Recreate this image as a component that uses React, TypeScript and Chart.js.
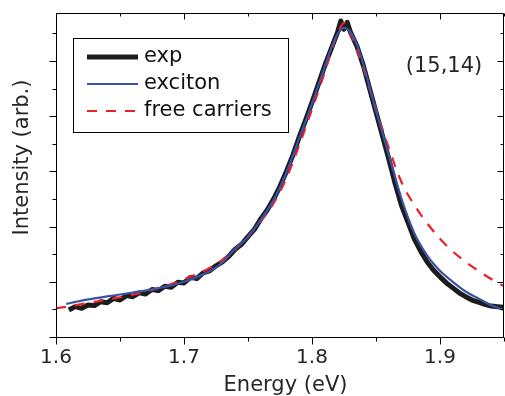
import React, { useEffect, useRef } from 'react';
import { Chart, registerables } from 'chart.js';

Chart.register(...registerables);

// ---- data (energy in eV, intensity in arbitrary units) ----
const expEnergy = [
  1.610, 1.615, 1.620, 1.625, 1.630, 1.635, 1.640, 1.645, 1.650, 1.655,
  1.660, 1.665, 1.670, 1.675, 1.680, 1.685, 1.690, 1.695, 1.700, 1.705,
  1.710, 1.715, 1.720, 1.725, 1.730, 1.735, 1.740, 1.745, 1.750, 1.755,
  1.760, 1.765, 1.770, 1.775, 1.780, 1.785, 1.790, 1.795, 1.800, 1.805,
  1.810, 1.815, 1.820, 1.8225, 1.825, 1.8275, 1.830, 1.835, 1.840, 1.845,
  1.850, 1.855, 1.860, 1.865, 1.870, 1.875, 1.880, 1.885, 1.890, 1.895,
  1.900, 1.905, 1.910, 1.915, 1.920, 1.925, 1.930, 1.935, 1.940, 1.945, 1.950,
];
const expIntensity = [
  0.98, 1.10, 1.04, 1.16, 1.14, 1.28, 1.24, 1.40, 1.34, 1.50,
  1.46, 1.60, 1.56, 1.72, 1.68, 1.84, 1.80, 1.98, 1.96, 2.16,
  2.12, 2.32, 2.40, 2.58, 2.72, 2.92, 3.18, 3.36, 3.64, 3.90,
  4.28, 4.60, 5.00, 5.46, 6.00, 6.58, 7.24, 7.86, 8.50, 9.16,
  9.84, 10.44, 11.05, 11.45, 11.15, 11.40, 11.05, 10.55, 9.85, 9.00,
  8.15, 7.30, 6.45, 5.55, 4.75, 4.15, 3.55, 3.10, 2.72, 2.42,
  2.18, 1.96, 1.78, 1.60, 1.46, 1.34, 1.26, 1.18, 1.12, 1.10, 1.08,
];

const excitonEnergy = [
  1.608, 1.62, 1.63, 1.64, 1.65, 1.66, 1.67, 1.68, 1.69, 1.70,
  1.71, 1.72, 1.73, 1.74, 1.75, 1.76, 1.77, 1.78, 1.79, 1.80,
  1.81, 1.815, 1.82, 1.825, 1.83, 1.835, 1.84, 1.845, 1.85, 1.86,
  1.87, 1.88, 1.89, 1.90, 1.91, 1.92, 1.93, 1.94, 1.95,
];
const excitonIntensity = [
  1.20, 1.32, 1.40, 1.47, 1.54, 1.61, 1.68, 1.77, 1.87, 2.00,
  2.17, 2.38, 2.70, 3.20, 3.62, 4.25, 4.96, 5.95, 7.20, 8.45,
  9.80, 10.45, 10.98, 11.20, 11.05, 10.60, 9.90, 9.05, 8.20, 6.60,
  5.00, 3.75, 2.95, 2.40, 2.00, 1.65, 1.40, 1.15, 0.98,
];

const freeEnergy = [
  1.60, 1.61, 1.62, 1.63, 1.64, 1.65, 1.66, 1.67, 1.68, 1.69,
  1.70, 1.71, 1.72, 1.73, 1.74, 1.75, 1.76, 1.77, 1.78, 1.79,
  1.80, 1.81, 1.815, 1.82, 1.825, 1.83, 1.835, 1.84, 1.845, 1.85,
  1.86, 1.87, 1.88, 1.89, 1.90, 1.91, 1.92, 1.93, 1.94, 1.95,
];
const freeIntensity = [
  1.04, 1.11, 1.19, 1.27, 1.35, 1.44, 1.53, 1.64, 1.77, 1.92,
  2.09, 2.28, 2.50, 2.79, 3.18, 3.64, 4.20, 4.85, 5.75, 6.95,
  8.25, 9.60, 10.35, 11.00, 11.38, 11.00, 10.40, 9.75, 9.00, 8.25,
  6.85, 5.60, 4.78, 4.12, 3.56, 3.10, 2.72, 2.40, 2.10, 1.84,
];

const xLabelTicks = [1.6, 1.7, 1.8, 1.9];
const xMinorStep = 0.05;
const yTickValues = [0, 1, 2, 3, 4, 5, 6, 7, 8, 9, 10, 11];
const seriesLabels = ['exp', 'exciton', 'free carriers'];
const annotationText = '(15,14)';
const xTitle = 'Energy (eV)';
const yTitle = 'Intensity (arb.)';

const FONT = '"DejaVu Sans", Verdana, sans-serif';

function toPoints(xs: number[], ys: number[]) {
  return xs.map((x, i) => ({ x, y: ys[i] }));
}

const framePlugin = {
  id: 'framePlugin',
  afterDraw(chart: any) {
    const { ctx, chartArea } = chart;
    const { left, right, top, bottom } = chartArea;
    const xs = chart.scales.x;
    const ys = chart.scales.y;
    ctx.save();
    ctx.strokeStyle = '#000';
    ctx.lineWidth = 1;
    const L = Math.round(left) + 0.5;
    const R = Math.round(right) - 0.5;
    const T = Math.round(top) + 0.5;
    const B = Math.round(bottom) + 0.5;
    ctx.beginPath();
    ctx.moveTo(L, T); ctx.lineTo(R, T); ctx.lineTo(R, B); ctx.lineTo(L, B); ctx.closePath();
    ctx.stroke();

    // x ticks
    ctx.beginPath();
    for (let k = 0; ; k++) {
      const v = xs.min + k * xMinorStep;
      if (v > xs.max + 1e-9) break;
      const major = xLabelTicks.some((t) => Math.abs(t - v) < 1e-6);
      const len = major ? 7 : 4;
      const px = Math.round(xs.getPixelForValue(v)) + 0.5;
      ctx.moveTo(px, B); ctx.lineTo(px, B + len);
      ctx.moveTo(px, T); ctx.lineTo(px, T + len - 1);
    }
    // y ticks
    yTickValues.forEach((v) => {
      const major = v % 2 === 0;
      const len = major ? 7 : 4;
      const py = Math.round(ys.getPixelForValue(v)) + 0.5;
      ctx.moveTo(L - len, py); ctx.lineTo(L, py);
      ctx.moveTo(R - len + 1, py); ctx.lineTo(R, py);
    });
    ctx.stroke();

    // axis titles
    ctx.fillStyle = '#262626';
    ctx.font = `21px ${FONT}`;
    ctx.textAlign = 'center';
    ctx.textBaseline = 'alphabetic';
    ctx.fillText(xTitle, 285.5, 390.5);
    ctx.save();
    ctx.translate(27.5, 157.5);
    ctx.rotate(-Math.PI / 2);
    ctx.fillText(yTitle, 0, 0);
    ctx.restore();

    // annotation
    ctx.textAlign = 'center';
    ctx.textBaseline = 'middle';
    ctx.fillText(annotationText, 444, 67);

    // legend
    const bx = 73.5, by = 38.5, bw = 215, bh = 94;
    ctx.fillStyle = '#fff';
    ctx.fillRect(bx, by, bw, bh);
    ctx.strokeStyle = '#000';
    ctx.lineWidth = 1;
    ctx.strokeRect(bx, by, bw, bh);
    const order = [2, 0, 1];
    const rowsY = [57, 84, 111];
    order.forEach((di, row) => {
      const ds = chart.data.datasets[di];
      const y = rowsY[row];
      ctx.save();
      ctx.strokeStyle = ds.borderColor;
      ctx.lineWidth = ds.borderWidth;
      ctx.setLineDash(ds.borderDash || []);
      ctx.lineCap = 'butt';
      ctx.beginPath();
      ctx.moveTo(87, y);
      ctx.lineTo(138, y);
      ctx.stroke();
      ctx.restore();
      ctx.fillStyle = '#111';
      ctx.textAlign = 'left';
      ctx.textBaseline = 'middle';
      ctx.font = `21px ${FONT}`;
      ctx.fillText(seriesLabels[row], 144, y);
    });
    ctx.restore();
  },
};

export default function App() {
  const canvasRef = useRef<HTMLCanvasElement | null>(null);

  useEffect(() => {
    const canvas = canvasRef.current;
    if (!canvas) return;
    const chart = new Chart(canvas, {
      type: 'line',
      data: {
        datasets: [
          {
            label: 'exciton',
            data: toPoints(excitonEnergy, excitonIntensity),
            borderColor: '#3953a4',
            borderWidth: 2.2,
            pointRadius: 0,
            cubicInterpolationMode: 'monotone',
            fill: false,
            order: 0,
          },
          {
            label: 'free carriers',
            data: toPoints(freeEnergy, freeIntensity),
            borderColor: '#ec2027',
            borderWidth: 2.2,
            borderDash: [10, 9],
            pointRadius: 0,
            cubicInterpolationMode: 'monotone',
            fill: false,
            order: 1,
          },
          {
            label: 'exp',
            data: toPoints(expEnergy, expIntensity),
            borderColor: '#1c1c1c',
            borderWidth: 5,
            borderJoinStyle: 'round',
            pointRadius: 0,
            tension: 0,
            fill: false,
            order: 2,
          },
        ],
      },
      options: {
        animation: false,
        responsive: false,
        maintainAspectRatio: false,
        layout: { padding: { left: 0, right: 1, top: 13, bottom: 0 } },
        plugins: {
          legend: { display: false },
          tooltip: { enabled: false },
        },
        scales: {
          x: {
            type: 'linear',
            min: 1.6,
            max: 1.95,
            afterFit: (s: any) => { s.height = 59; },
            grid: { display: false, drawTicks: false },
            border: { display: false },
            ticks: {
              stepSize: xMinorStep,
              autoSkip: false,
              maxRotation: 0,
              padding: 0,
              color: '#262626',
              font: { family: FONT, size: 20, lineHeight: 2.1 },
              callback: (v: any) => {
                const t = xLabelTicks.find((q) => Math.abs(q - Number(v)) < 1e-6);
                return t === undefined ? '' : t.toFixed(1);
              },
            },
          },
          y: {
            type: 'linear',
            min: 0,
            max: 11.74,
            afterFit: (s: any) => { s.width = 56; },
            grid: { display: false, drawTicks: false },
            border: { display: false },
            ticks: { display: false, stepSize: 1 },
          },
        },
      },
      plugins: [framePlugin],
    } as any);
    return () => chart.destroy();
  }, []);

  return (
    <div style={{ position: 'absolute', left: 0, top: 0, width: 505, height: 396, background: '#fff' }}>
      <canvas ref={canvasRef} width={505} height={396} style={{ display: 'block' }} />
    </div>
  );
}
